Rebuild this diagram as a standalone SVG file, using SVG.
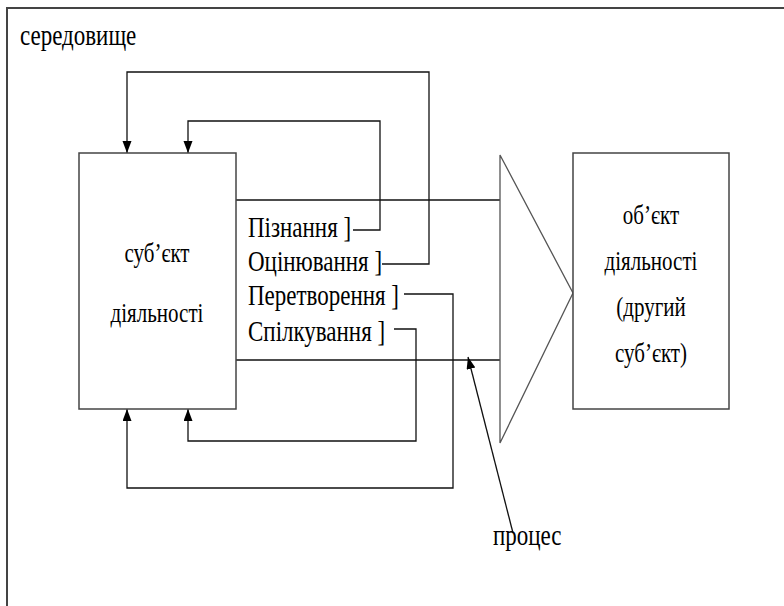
<svg xmlns="http://www.w3.org/2000/svg" width="784" height="606" viewBox="0 0 784 606">
<style>
  .t { font-family: "Liberation Serif", "Times New Roman", serif; fill: #000; }
  .lbl { font-size: 23px; }
  .box { font-size: 21px; text-anchor: middle; }
  .frame { fill: #fff; stroke: #444; stroke-width: 1.5; }
  .conn { fill: none; stroke: #111; stroke-width: 1.3; }
</style>
<defs>
  <marker id="ah" markerUnits="userSpaceOnUse" markerWidth="13" markerHeight="10" refX="12" refY="4.5" orient="auto">
    <path d="M0,0 L12,4.5 L0,9 z" fill="#000"/>
  </marker>
</defs>
<rect width="784" height="606" fill="#fff"/>
<g id="environment">
  <path d="M7,606 V8 H784" fill="none" stroke="#444" stroke-width="2"/>
  <text class="t lbl" transform="translate(20 45) scale(1 1.3)">середовище</text>
</g>
<g id="connectors">
  <path class="conn" d="M236,200 H500"/>
  <path class="conn" d="M236,360 H500"/>
  <path class="conn" d="M353,230 H380 V121 H188 V153" marker-end="url(#ah)"/>
  <path class="conn" d="M382,264 H429 V72 H127 V153" marker-end="url(#ah)"/>
  <path class="conn" d="M404,294 H453 V488 H127 V409" marker-end="url(#ah)"/>
  <path class="conn" d="M394,329 H416 V441 H188 V409" marker-end="url(#ah)"/>
  <path class="conn" d="M513,533 L468,357" marker-end="url(#ah)"/>
</g>
<g id="subject">
  <rect class="frame" x="79" y="153" width="157" height="256"/>
  <text class="t box" transform="translate(157 262) scale(1 1.3)">суб’єкт</text>
  <text class="t box" transform="translate(157 322) scale(1 1.3)">діяльності</text>
</g>
<g id="activities">
  <text class="t lbl" transform="translate(248 237) scale(1 1.3)">Пізнання ]</text>
  <text class="t lbl" transform="translate(248 271) scale(1 1.3)">Оцінювання ]</text>
  <text class="t lbl" transform="translate(248 305) scale(1 1.3)">Перетворення ]</text>
  <text class="t lbl" transform="translate(248 341) scale(1 1.3)">Спілкування ]</text>
</g>
<g id="process">
  <polygon points="500,155 573,293 500,443" fill="none" stroke="#555" stroke-width="1.3"/>
  <text class="t lbl" transform="translate(493 545) scale(1 1.3)">процес</text>
</g>
<g id="object">
  <rect class="frame" x="573" y="153" width="156" height="256"/>
  <text class="t box" transform="translate(651 224) scale(1 1.3)">об’єкт</text>
  <text class="t box" transform="translate(651 270) scale(1 1.3)">діяльності</text>
  <text class="t box" transform="translate(651 316) scale(1 1.3)">(другий</text>
  <text class="t box" transform="translate(651 362) scale(1 1.3)">суб’єкт)</text>
</g>
</svg>
